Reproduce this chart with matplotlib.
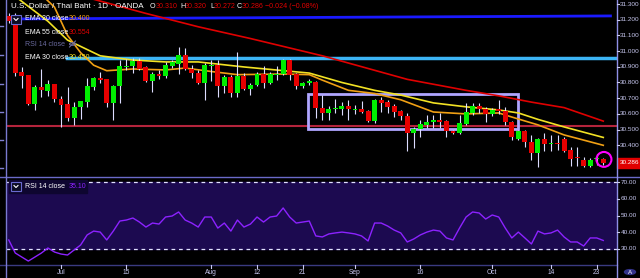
import matplotlib.pyplot as plt
from matplotlib.lines import Line2D
from matplotlib.patches import Rectangle, Ellipse, Circle

plt.rcParams['font.family'] = ['Liberation Sans', 'DejaVu Sans']

# daily bars, USD/THB (OANDA), Jun 19 .. Oct 24
dates = ['Jun 19', 'Jun 20', 'Jun 21', 'Jun 24', 'Jun 25', 'Jun 26', 'Jun 27', 'Jun 28',
         'Jul 1', 'Jul 2', 'Jul 3', 'Jul 4', 'Jul 5', 'Jul 8', 'Jul 9', 'Jul 10', 'Jul 11', 'Jul 12',
         'Jul 15', 'Jul 16', 'Jul 17', 'Jul 18', 'Jul 19', 'Jul 22', 'Jul 23', 'Jul 24', 'Jul 25', 'Jul 26',
         'Jul 29', 'Jul 30', 'Jul 31', 'Aug 1', 'Aug 2', 'Aug 5', 'Aug 6', 'Aug 7', 'Aug 8', 'Aug 9',
         'Aug 12', 'Aug 13', 'Aug 14', 'Aug 15', 'Aug 16', 'Aug 19', 'Aug 20', 'Aug 21', 'Aug 22', 'Aug 23',
         'Aug 26', 'Aug 27', 'Aug 28', 'Aug 29', 'Aug 30', 'Sep 2', 'Sep 3', 'Sep 4', 'Sep 5', 'Sep 6',
         'Sep 9', 'Sep 10', 'Sep 11', 'Sep 12', 'Sep 13', 'Sep 16', 'Sep 17', 'Sep 18', 'Sep 19', 'Sep 20',
         'Sep 23', 'Sep 24', 'Sep 25', 'Sep 26', 'Sep 27', 'Sep 30', 'Oct 1', 'Oct 2', 'Oct 3', 'Oct 4',
         'Oct 7', 'Oct 8', 'Oct 9', 'Oct 10', 'Oct 11', 'Oct 14', 'Oct 15', 'Oct 16', 'Oct 17', 'Oct 18',
         'Oct 21', 'Oct 22', 'Oct 23', 'Oct 24']

opens = [31.224, 31.217, 30.867, 30.848, 30.663, 30.771, 30.746, 30.790,
         30.695, 30.663, 30.574, 30.644, 30.676, 30.771, 30.829, 30.822, 30.670, 30.778,
         30.899, 30.905, 30.937, 30.899, 30.810, 30.854, 30.841, 30.905, 30.918, 30.975,
         30.886, 30.861, 30.797, 30.905, 30.912, 30.778, 30.835, 30.733, 30.841, 30.759,
         30.784, 30.854, 30.797, 30.848, 30.854, 30.943, 30.854, 30.778, 30.797, 30.803,
         30.638, 30.606, 30.631, 30.631, 30.650, 30.625, 30.631, 30.619, 30.555, 30.689,
         30.676, 30.650, 30.619, 30.587, 30.478, 30.504, 30.529, 30.548, 30.561, 30.555,
         30.491, 30.478, 30.536, 30.606, 30.650, 30.631, 30.599, 30.631, 30.619, 30.548,
         30.440, 30.491, 30.421, 30.351, 30.440, 30.408, 30.415, 30.440, 30.370, 30.326,
         30.307, 30.268, 30.313, 30.310]
highs = [31.240, 31.240, 30.899, 30.850, 30.784, 30.886, 30.816, 30.792,
         30.714, 30.771, 30.676, 30.684, 30.829, 30.835, 30.867, 30.824, 30.784, 30.943,
         30.950, 30.956, 30.956, 30.905, 30.867, 30.880, 30.931, 30.943, 31.026, 31.020,
         30.912, 30.880, 30.924, 30.943, 30.943, 30.848, 30.848, 30.994, 30.861, 30.797,
         30.867, 30.905, 30.867, 30.905, 30.950, 30.950, 30.861, 30.803, 30.822, 30.810,
         30.720, 30.650, 30.695, 30.676, 30.689, 30.657, 30.682, 30.625, 30.695, 30.708,
         30.689, 30.663, 30.625, 30.606, 30.517, 30.561, 30.593, 30.593, 30.606, 30.561,
         30.497, 30.593, 30.670, 30.670, 30.670, 30.644, 30.638, 30.689, 30.644, 30.555,
         30.497, 30.497, 30.466, 30.447, 30.478, 30.466, 30.466, 30.453, 30.389, 30.389,
         30.326, 30.319, 30.345, 30.320]
lows = [31.180, 30.841, 30.765, 30.657, 30.625, 30.708, 30.714, 30.676,
        30.517, 30.555, 30.529, 30.568, 30.644, 30.752, 30.797, 30.644, 30.561, 30.670,
        30.880, 30.861, 30.880, 30.803, 30.740, 30.822, 30.829, 30.892, 30.854, 30.880,
        30.829, 30.790, 30.689, 30.810, 30.708, 30.733, 30.708, 30.708, 30.752, 30.720,
        30.778, 30.765, 30.790, 30.816, 30.848, 30.816, 30.759, 30.765, 30.784, 30.574,
        30.561, 30.561, 30.606, 30.593, 30.561, 30.599, 30.606, 30.548, 30.542, 30.612,
        30.606, 30.580, 30.561, 30.364, 30.383, 30.453, 30.510, 30.510, 30.510, 30.453,
        30.472, 30.472, 30.529, 30.593, 30.606, 30.548, 30.587, 30.599, 30.529, 30.434,
        30.434, 30.389, 30.307, 30.262, 30.364, 30.364, 30.370, 30.357, 30.268, 30.268,
        30.262, 30.262, 30.275, 30.272]
closes = [31.192, 30.861, 30.841, 30.663, 30.771, 30.752, 30.790, 30.695,
          30.657, 30.574, 30.644, 30.682, 30.778, 30.829, 30.816, 30.670, 30.778, 30.905,
          30.905, 30.937, 30.886, 30.810, 30.854, 30.841, 30.912, 30.931, 30.975, 30.886,
          30.861, 30.797, 30.912, 30.912, 30.778, 30.835, 30.733, 30.841, 30.759, 30.784,
          30.854, 30.797, 30.854, 30.854, 30.943, 30.848, 30.778, 30.797, 30.810, 30.638,
          30.606, 30.631, 30.638, 30.650, 30.631, 30.631, 30.612, 30.555, 30.689, 30.670,
          30.644, 30.612, 30.587, 30.478, 30.504, 30.536, 30.548, 30.561, 30.548, 30.491,
          30.478, 30.542, 30.612, 30.650, 30.631, 30.599, 30.625, 30.619, 30.548, 30.453,
          30.491, 30.421, 30.351, 30.440, 30.408, 30.415, 30.408, 30.364, 30.313, 30.319,
          30.268, 30.307, 30.319, 30.286]

rsi = [35.4, 27.6, 25.2, 22.8, 25.2, 27.6, 30.6, 28.2,
       27.0, 26.4, 29.4, 32.4, 38.4, 40.7, 40.1, 35.4, 40.7, 46.7,
       47.3, 48.5, 46.1, 43.1, 45.5, 44.9, 49.1, 49.7, 52.1, 47.3,
       45.5, 43.1, 49.1, 49.1, 42.5, 45.5, 40.7, 47.3, 43.1, 44.9,
       49.1, 46.1, 49.1, 49.7, 54.5, 49.1, 45.5, 46.1, 46.7, 37.8,
       37.2, 39.0, 39.6, 40.1, 39.6, 39.0, 37.8, 34.8, 45.5, 45.5,
       43.7, 41.3, 39.6, 34.2, 36.0, 38.4, 40.1, 41.3, 40.7, 36.6,
       35.4, 42.5, 49.1, 52.1, 51.5, 47.9, 50.3, 49.1, 42.5, 36.6,
       40.1, 36.6, 33.0, 40.7, 39.0, 39.6, 41.3, 37.2, 34.2, 34.2,
       31.8, 36.6, 36.6, 35.1]

# moving averages at a few dates
ema20_dates = ['Jun 26', 'Jun 28', 'Jul 2', 'Jul 4', 'Jul 8', 'Jul 10', 'Jul 16', 'Jul 23', 'Jul 26',
               'Aug 1', 'Aug 7', 'Aug 16', 'Aug 22', 'Aug 26', 'Aug 30', 'Sep 5', 'Sep 11', 'Sep 18',
               'Sep 25', 'Oct 2', 'Oct 4', 'Oct 10', 'Oct 16', 'Oct 24']
ema20_vals = [31.36, 31.28, 31.10, 30.99, 30.91, 30.875, 30.886, 30.88, 30.892,
              30.87, 30.85, 30.854, 30.85, 30.815, 30.75, 30.73, 30.69, 30.612,
              30.60, 30.606, 30.58, 30.53, 30.466, 30.400]
ema30_dates = ['Jun 19', 'Jun 27', 'Jul 2', 'Jul 9', 'Jul 16', 'Jul 23', 'Jul 30', 'Aug 8', 'Aug 22',
               'Aug 29', 'Sep 5', 'Sep 11', 'Sep 18', 'Sep 25', 'Oct 2', 'Oct 7', 'Oct 10', 'Oct 16', 'Oct 24']
ema30_vals = [31.38, 31.19, 31.07, 30.97, 30.943, 30.931, 30.931, 30.899, 30.86,
              30.80, 30.75, 30.72, 30.67, 30.645, 30.625, 30.606, 30.565, 30.517, 30.450]
ema55_dates = ['Jun 19', 'Jul 8', 'Jul 18', 'Jul 30', 'Aug 9', 'Aug 26', 'Sep 12', 'Sep 25', 'Oct 2',
               'Oct 9', 'Oct 16', 'Oct 24']
ema55_vals = [31.50, 31.33, 31.24, 31.155, 31.08, 30.97, 30.82, 30.75, 30.715, 30.675, 30.64, 30.554]

tick_dates = ['Jul 1', 'Jul 15', 'Aug 1', 'Aug 12', 'Aug 21', 'Sep 2', 'Sep 16', 'Oct 1', 'Oct 14', 'Oct 23']
tick_labels = ['Jul', '15', 'Aug', '12', '21', 'Sep', '16', 'Oct', '14', '23']

price_ticks = [31.3, 31.2, 31.1, 31.0, 30.9, 30.8, 30.7, 30.6, 30.5, 30.4]
rsi_ticks = [70, 60, 50, 40, 30]

# drawings on the chart
blue_line = ((1.7, 31.205), (92.1, 31.224))
cyan_level = 30.956
red_level = 30.523
box = (45.8, 30.504, 78.0, 30.727)

W, H = 640, 278
GREEN, RED, WICK = '#00ee00', '#e60000', '#dcdcff'
AXC = '#c8c8f0'


def fx(x):
    return x / W


def fy(y):
    return 1 - y / H


def idx(d):
    return dates.index(d)


fig = plt.figure(figsize=(6.4, 2.78), dpi=100, facecolor='black')

ax = fig.add_axes([fx(6), fy(177), fx(611), 177 / H])
ax.set_facecolor('black')
ax.set_xlim(-0.42, 93.1)
ax.set_ylim(30.198, 31.3255)
ax.axis('off')

rax = fig.add_axes([fx(6), fy(265), fx(611), 88 / H])
rax.set_facecolor('black')
rax.set_xlim(-0.42, 93.1)
rax.set_ylim(20.45, 72.99)
rax.axis('off')

# drawings
ax.plot([blue_line[0][0], blue_line[1][0]], [blue_line[0][1], blue_line[1][1]],
        color='#1a1aff', lw=2, zorder=1)
ax.plot([8.9, 93.1], [cyan_level] * 2, color='#3cb4f5', lw=2.5, zorder=1)
ax.plot([-0.42, 93.1], [red_level] * 2, color='#b4243c', lw=1.5, zorder=1)
ax.add_patch(Rectangle((box[0], box[1]), box[2] - box[0], box[3] - box[1],
                       fill=False, ec='#b0a6ff', lw=2, zorder=2))

# moving averages
for ds, vs, c in [(ema55_dates, ema55_vals, '#e00000'),
                  (ema30_dates, ema30_vals, '#f2e224'),
                  (ema20_dates, ema20_vals, '#f0a014')]:
    ax.plot([idx(d) for d in ds], vs, color=c, lw=1.2, zorder=3)

# candles
for i in range(len(dates)):
    o, h, l, c = opens[i], highs[i], lows[i], closes[i]
    col = GREEN if c >= o else RED
    ax.vlines(i, l, h, color=WICK, lw=0.8, zorder=4)
    ax.bar(i, max(abs(c - o), 0.004), bottom=min(o, c), width=0.75, color=col, zorder=5)

ax.add_patch(Ellipse((len(dates) - 0.9, closes[-1] + 0.024), 2.3, 0.095,
                     fill=False, ec='#ff00ff', lw=1.5, zorder=6))

# RSI panel
rax.axhspan(30, 70, color='#1c0a50', zorder=0)
rax.axhline(70, color='#e0e0ff', lw=0.9, ls=(0, (3, 3)), zorder=1)
rax.axhline(30, color='#e0e0ff', lw=0.9, ls=(0, (3, 3)), zorder=1)
rax.plot(range(len(rsi)), rsi, color='#8c22ff', lw=1, zorder=2)

# frame lines
fig.add_artist(Line2D([fx(0), fx(640)], [fy(177), fy(177)], color='#6a6ac8', lw=1))
fig.add_artist(Line2D([fx(0), fx(617)], [fy(265), fy(265)], color='#3a3a80', lw=1))
fig.add_artist(Line2D([fx(6), fx(6)], [0, 1], color='#7a7ad0', lw=1))
fig.add_artist(Line2D([fx(617), fx(617)], [0, 1], color='#8f8fe6', lw=1))
for yy in [26, 55, 84, 112, 140, 168]:
    fig.add_artist(Line2D([fx(0), fx(3)], [fy(yy), fy(yy)], color='#8080d0', lw=1))

# price scale
for p in price_ticks:
    y = 4 + (31.3 - p) * 157
    fig.add_artist(Line2D([fx(617), fx(619)], [fy(y), fy(y)], color=AXC, lw=0.8))
    fig.text(fx(619.5), fy(y), f'{p:.3f}', color=AXC, fontsize=4.6, va='center', ha='left')
fig.add_artist(Rectangle((fx(617), fy(168)), fx(23), 10 / H, color='#e00000',
                         transform=fig.transFigure))
fig.text(fx(619.5), fy(163), f'{closes[-1]:.3f}', color='white', fontsize=4.6, va='center', ha='left')

for r in rsi_ticks:
    y = 182 + (70 - r) * 1.675
    fig.add_artist(Line2D([fx(617), fx(619)], [fy(y), fy(y)], color=AXC, lw=0.8))
    fig.text(fx(620.5), fy(y), f'{r:.2f}', color=AXC, fontsize=4.6, va='center', ha='left')

# time scale
for d, lab in zip(tick_dates, tick_labels):
    x = 6 + (idx(d) + 0.42) / 93.52 * 611
    fig.add_artist(Line2D([fx(x), fx(x)], [fy(265), fy(268)], color=AXC, lw=0.8))
    fig.text(fx(x), fy(273), lab, color=AXC, fontsize=4.8, va='center', ha='center')

fig.add_artist(Circle((fx(630), fy(272)), 5.5 / W, color='#33338a', transform=fig.transFigure))
fig.text(fx(630), fy(272), 'A', color='white', fontsize=4.5, va='center', ha='center')

# header
fig.text(fx(11), fy(7), 'U.S. Dollar / Thai Baht · 1D · OANDA', color='white', fontsize=5.8, va='center')
ohlc = [('O', 150, 5.5, f'{opens[-1]:.3f}'), ('H', 180, 5.0, f'{highs[-1]:.3f}'),
        ('L', 210, 4.0, f'{lows[-1]:.3f}'), ('C', 237, 5.0, f'{closes[-1]:.3f}')]
for letter, x, gap, val in ohlc:
    fig.text(fx(x), fy(7), letter, color='white', fontsize=5.1, va='center')
    fig.text(fx(x + gap), fy(7), val, color='#e00000', fontsize=5.1, va='center')
chg = closes[-1] - opens[-1]
fig.text(fx(265), fy(7), f'\u2212{abs(chg):.3f} (\u2212{abs(chg) / opens[-1] * 100:.2f}%)',
         color='#e00000', fontsize=5.1, va='center')


def dropdown(y0):
    fig.add_artist(Rectangle((fx(11), fy(y0 + 9)), fx(10), 9 / H, fc='#0c0c24', ec='#6a6ad0',
                             lw=0.8, transform=fig.transFigure))
    fig.add_artist(Line2D([fx(14), fx(16), fx(18)], [fy(y0 + 3.5), fy(y0 + 5.5), fy(y0 + 3.5)],
                          color='white', lw=0.8))


dropdown(15)
legend = [('EMA 20 close', 19, '30.400', '#f0a014'),
          ('EMA 55 close', 32, '30.554', '#e00000'),
          ('EMA 30 close', 57, '30.450', '#f2e224')]
for name, y, val, c in legend:
    fig.text(fx(25), fy(y), name, color='white', fontsize=5, va='center')
    fig.text(fx(69), fy(y), val, color=c, fontsize=5, va='center')
fig.text(fx(25), fy(44), 'RSI 14 close', color='#6a6a9e', fontsize=5, va='center')
fig.add_artist(Circle((fx(72.5), fy(44)), 3 / W, fill=False, ec='#6a6a9e', lw=0.8,
                      transform=fig.transFigure))
fig.add_artist(Line2D([fx(69.5), fx(75.5)], [fy(47), fy(41)], color='#6a6a9e', lw=0.8))

fig.add_artist(Rectangle((fx(9), fy(193)), fx(78), 13 / H, color='#0e0630',
                         transform=fig.transFigure))
dropdown(182)
fig.text(fx(25), fy(186.5), 'RSI 14 close', color='white', fontsize=5, va='center')
fig.text(fx(68.5), fy(186.5), f'{rsi[-1]:.2f}', color='#8c22ff', fontsize=5, va='center')

fig.savefig('out.png', dpi=100, facecolor='black')
